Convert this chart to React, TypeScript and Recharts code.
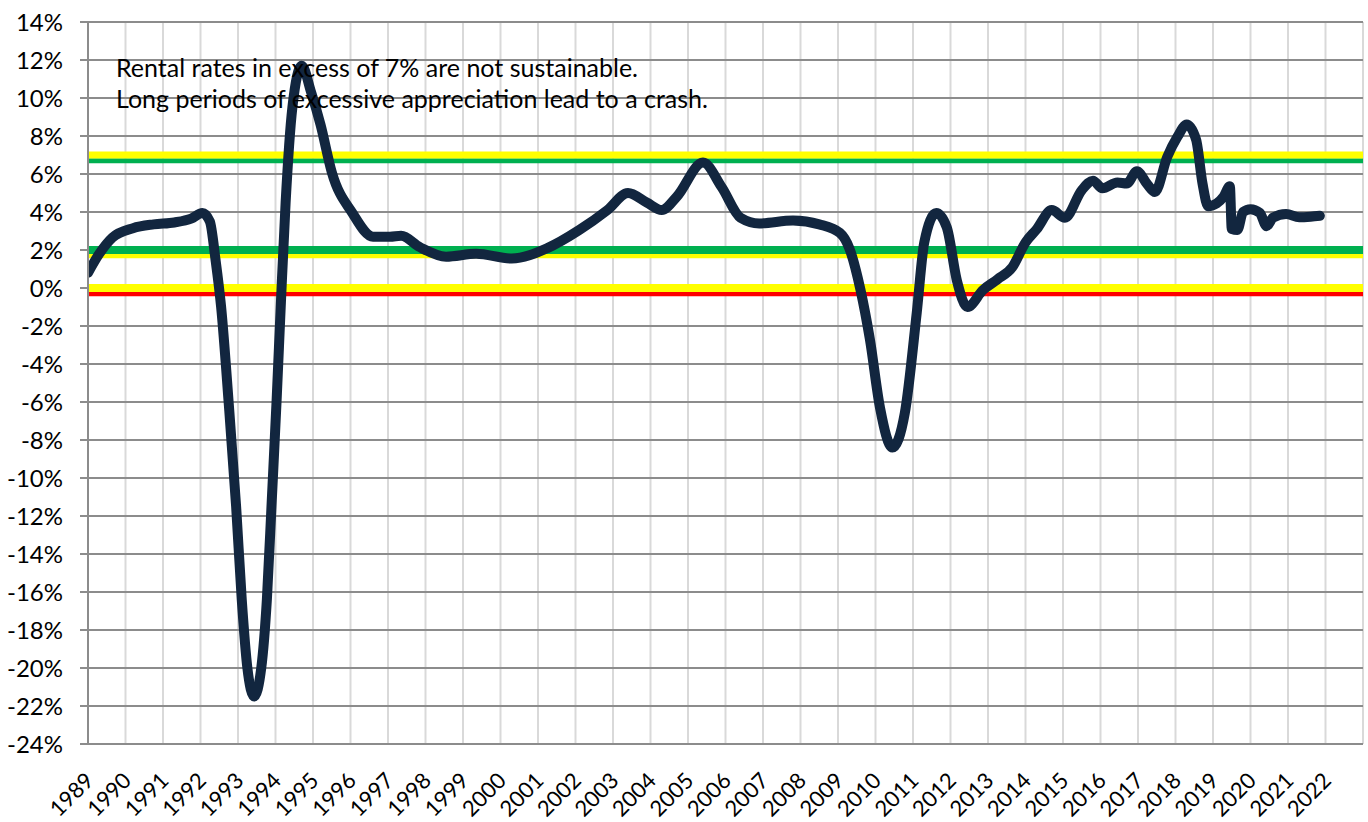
import { LineChart, Line, XAxis, YAxis, CartesianGrid } from 'recharts';

// annual rental rate change (x = fractional year)
const years = [
  1989.0, 1989.3, 1989.65, 1990.2, 1990.75, 1991.3, 1991.75, 1992.05, 1992.25, 1992.4,
  1992.55, 1992.75, 1992.95, 1993.1, 1993.25, 1993.43, 1993.62, 1993.77, 1993.9, 1994.03,
  1994.15, 1994.27, 1994.45, 1994.7, 1994.95, 1995.2, 1995.5, 1996.05, 1996.6, 1997.05,
  1997.35, 1997.85, 1998.55, 1999.35, 2000.3, 2001.25, 2002.1, 2002.85, 2003.4, 2003.9,
  2004.3, 2004.7, 2005.4, 2005.9, 2006.4, 2006.9, 2007.8, 2008.5, 2009.05, 2009.3,
  2009.6, 2009.85, 2010.12, 2010.45, 2010.78, 2011.1, 2011.3, 2011.62, 2011.9, 2012.17,
  2012.45, 2012.87, 2013.25, 2013.65, 2014.0, 2014.3, 2014.7, 2015.05, 2015.5, 2015.8,
  2016.05, 2016.45, 2016.7, 2016.97, 2017.25, 2017.45, 2017.78, 2018.05, 2018.3, 2018.55,
  2018.72, 2018.87, 2019.1, 2019.28, 2019.45, 2019.5, 2019.65, 2019.8, 2020.0, 2020.25,
  2020.43, 2020.6, 2020.95, 2021.3, 2021.6, 2021.85,
];

const rates = [
  0.8, 1.8, 2.65, 3.15, 3.35, 3.45, 3.65, 3.95, 3.5, 1.5,
  -1.0, -6.0, -11.5, -16.4, -20.0, -21.5, -20.0, -16.4, -11.2, -5.9,
  -0.5, 4.5, 9.5, 11.7, 10.3, 8.6, 6.1, 3.95, 2.7, 2.7,
  2.75, 2.15, 1.65, 1.8, 1.55, 2.1, 3.05, 4.1, 5.0, 4.5,
  4.1, 4.8, 6.6, 5.3, 3.7, 3.4, 3.55, 3.35, 2.9, 2.1,
  -0.1, -2.7, -6.3, -8.4, -6.6, -1.3, 2.4, 3.95, 3.2, 0.4,
  -1.0, -0.1, 0.45, 1.1, 2.4, 3.1, 4.1, 3.7, 5.15, 5.65,
  5.25, 5.55, 5.5, 6.15, 5.45, 5.05, 6.9, 7.95, 8.6, 7.8,
  5.5, 4.3, 4.45, 4.8, 5.35, 3.1, 3.05, 4.0, 4.15, 3.95,
  3.25, 3.7, 3.9, 3.72, 3.75, 3.8,
];

const tickYears = [
  1989, 1990, 1991, 1992, 1993, 1994, 1995, 1996, 1997, 1998, 1999, 2000,
  2001, 2002, 2003, 2004, 2005, 2006, 2007, 2008, 2009, 2010, 2011, 2012,
  2013, 2014, 2015, 2016, 2017, 2018, 2019, 2020, 2021, 2022,
];
const yTicks = [-24, -22, -20, -18, -16, -14, -12, -10, -8, -6, -4, -2, 0, 2, 4, 6, 8, 10, 12, 14];

// threshold bands (yellow/green/red pairs)
const bandSpan = [1989, 2023];
const upperGreen = 6.7;
const upperYellow = 7;
const lowerYellow = 1.7;
const lowerGreen = 2;
const zeroRed = -0.3;
const zeroYellow = 0;

const notes = [
  'Rental rates in excess of 7% are not sustainable.',
  'Long periods of excessive appreciation lead to a crash.',
];

const data = years.map((x, i) => ({ x, rate: rates[i] }));
const band = (level: number) => bandSpan.map((x) => ({ x, v: level }));

const FONT = 'Lato, "Open Sans", sans-serif';

const YearTick = (props: any) => {
  const { x, y, payload } = props;
  const tx = x + 7;
  const ty = y + 30;
  return (
    <text x={tx} y={ty} textAnchor="end" fontSize={22} fill="#000" transform={`rotate(-45, ${tx}, ${ty})`}>
      {payload.value}
    </text>
  );
};

const bandLine = (key: string, level: number, color: string, width: number) => (
  <Line
    key={key}
    data={band(level)}
    dataKey="v"
    type="linear"
    stroke={color}
    strokeWidth={width}
    strokeLinecap="round"
    dot={false}
    activeDot={false}
    isAnimationActive={false}
  />
);

export default function App() {
  return (
    <div style={{ position: 'absolute', left: 0, top: 0, width: 1368, height: 822, background: '#fff', fontFamily: FONT }}>
      <LineChart width={1368} height={822} data={data} margin={{ top: 22, right: 5, left: 0, bottom: 0 }}>
        <CartesianGrid horizontal={false} stroke="#d9d9d9" strokeWidth={2} />
        <CartesianGrid vertical={false} stroke="#8c8c8c" strokeWidth={2} />
        <XAxis
          dataKey="x"
          type="number"
          domain={[1989, 2023]}
          ticks={tickYears}
          interval={0}
          allowDataOverflow
          height={78}
          axisLine={{ stroke: '#8c8c8c', strokeWidth: 2 }}
          tickLine={false}
          tick={<YearTick />}
        />
        <YAxis
          type="number"
          domain={[-24, 14]}
          ticks={yTicks}
          interval={0}
          width={88}
          tickFormatter={(v: number) => `${v}%`}
          axisLine={{ stroke: '#8c8c8c', strokeWidth: 2 }}
          tickLine={{ stroke: '#8c8c8c', strokeWidth: 2 }}
          tickSize={8}
          tickMargin={17}
          tick={{ fontSize: 24, fill: '#000' }}
        />
        {bandLine('ug', upperGreen, '#00b050', 5)}
        {bandLine('uy', upperYellow, '#ffff00', 7)}
        {bandLine('ly', lowerYellow, '#ffff00', 5)}
        {bandLine('lg', lowerGreen, '#00b050', 8)}
        {bandLine('zr', zeroRed, '#ff0000', 5)}
        {bandLine('zy', zeroYellow, '#ffff00', 8)}
        <Line
          dataKey="rate"
          type="monotone"
          stroke="#12263f"
          strokeWidth={10}
          strokeLinecap="round"
          strokeLinejoin="round"
          dot={false}
          activeDot={false}
          isAnimationActive={false}
        />
      </LineChart>
      <svg width={1368} height={822} style={{ position: 'absolute', left: 0, top: 0, pointerEvents: 'none' }}>
        <text x={116} y={77} fontSize={25} fill="#000">{notes[0]}</text>
        <text x={116} y={108} fontSize={25} fill="#000">{notes[1]}</text>
      </svg>
    </div>
  );
}
